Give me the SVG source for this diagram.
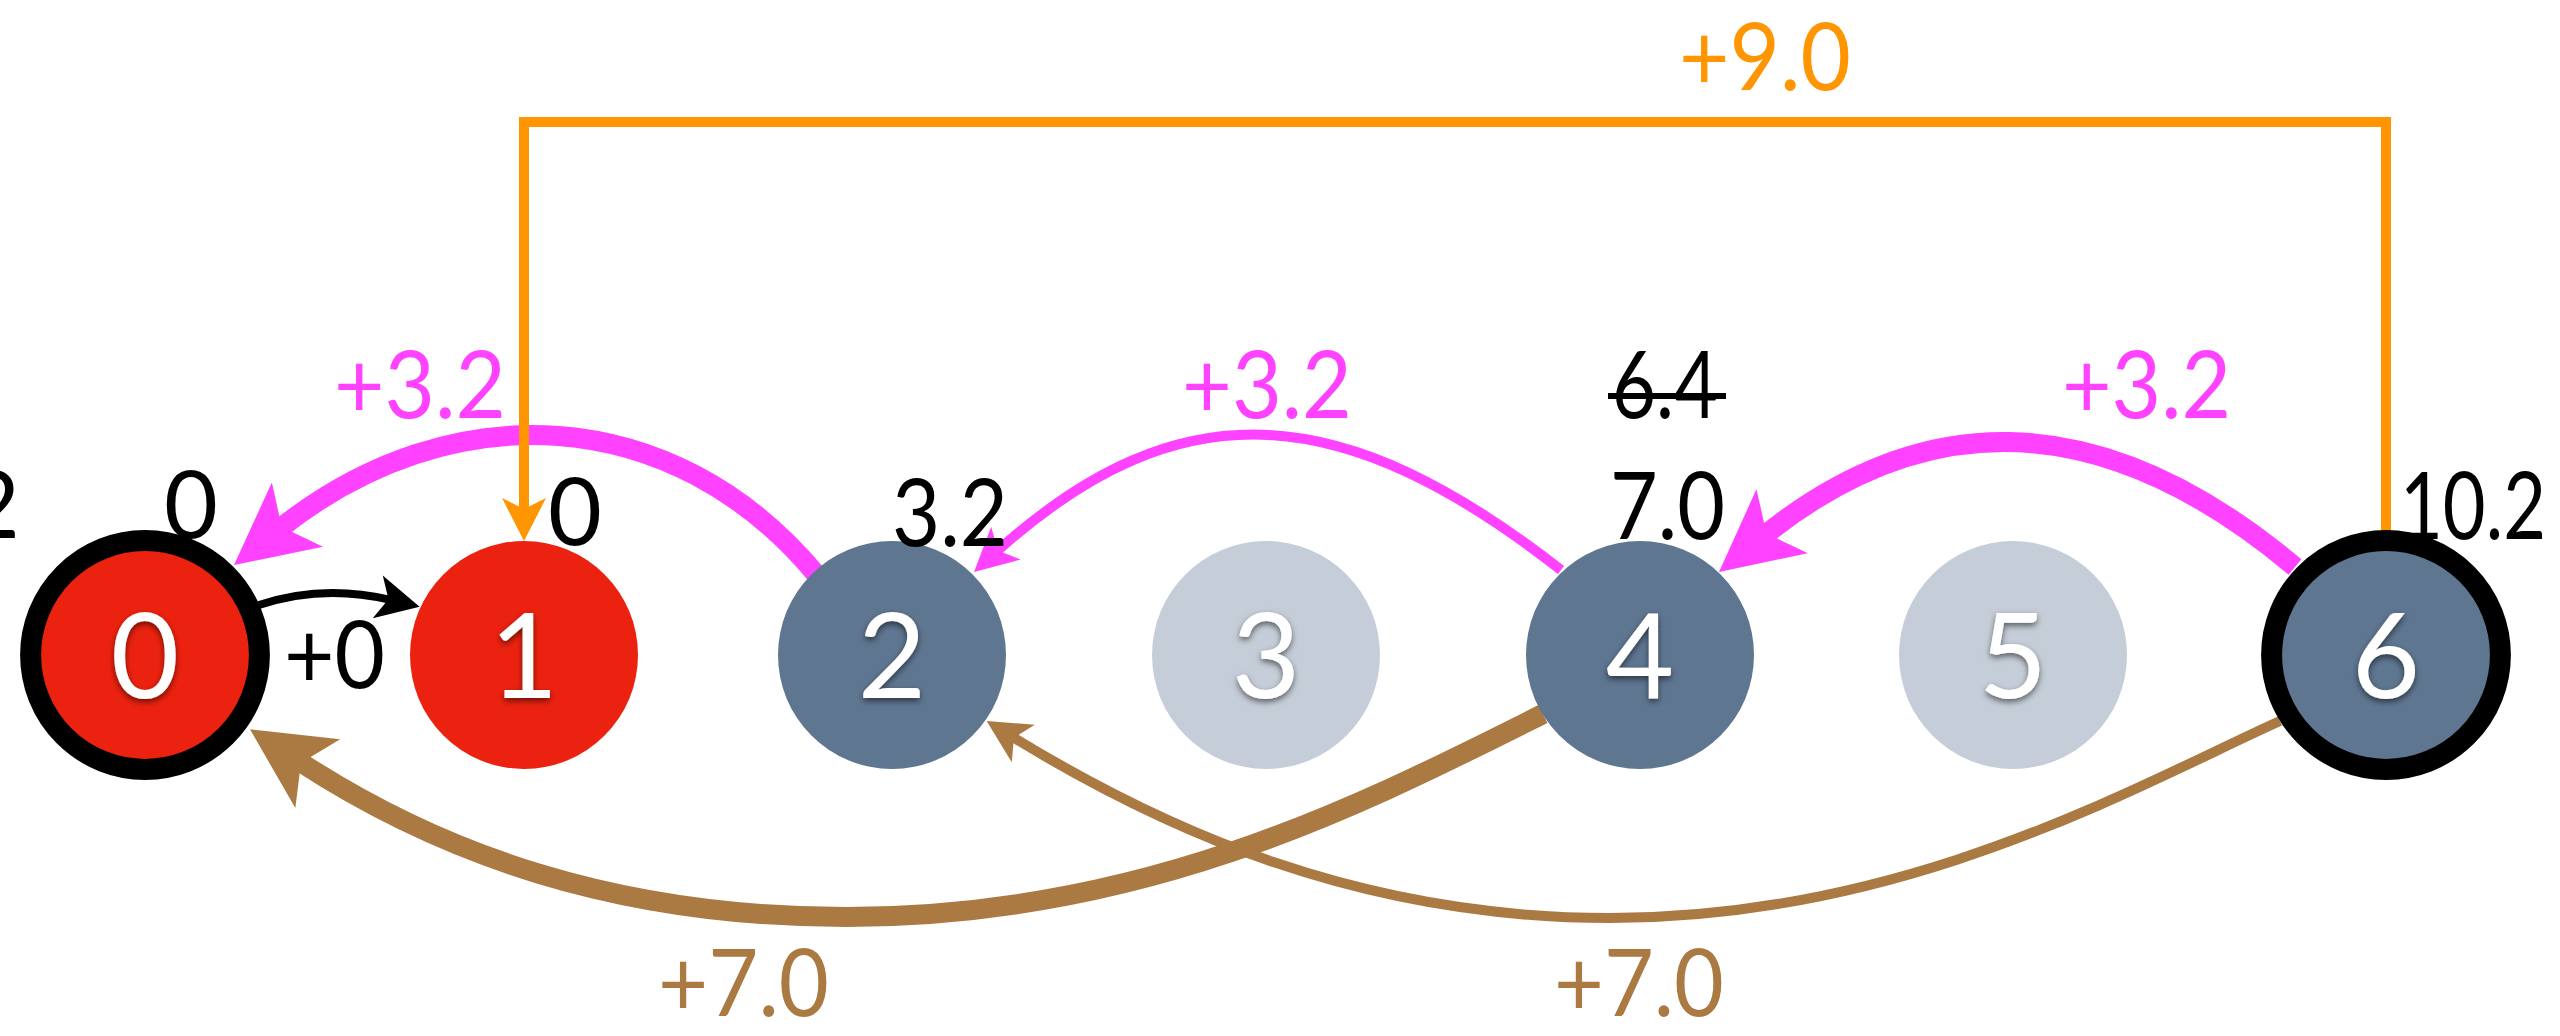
<svg xmlns="http://www.w3.org/2000/svg" width="2560" height="1036" viewBox="0 0 2560 1036">
<style>
.t{font-family:Lato,"Open Sans","Liberation Sans",sans-serif;font-size:93px}
.k{fill:#000}
.pk{fill:#FF42FF}
.br{fill:#AB7A43}
.or{fill:#FF9500}
.num{font-family:Lato,"Open Sans","Liberation Sans",sans-serif;font-size:118px;fill:#fff;text-anchor:middle;filter:url(#sh)}
.red{fill:#EC2210}
.dark{fill:#5F7691}
.light{fill:#C5CED8}
.ring{stroke:#000;stroke-width:21}
.c{fill:none}
</style>
<defs>
<filter id="sh" x="-30%" y="-30%" width="160%" height="160%">
<feDropShadow dx="0" dy="3" stdDeviation="3" flood-color="#000" flood-opacity="0.55"/>
</filter>
<marker id="aPinkB" markerUnits="userSpaceOnUse" orient="auto" refX="0" refY="0" markerWidth="1" markerHeight="1" overflow="visible"><path d="M58,0 L-23,-41 L-3,0 L-23,41 Z" fill="#FF42FF"/></marker>
<marker id="aPinkS" markerUnits="userSpaceOnUse" orient="auto" refX="0" refY="0" markerWidth="1" markerHeight="1" overflow="visible"><path d="M30,0 L-13,-22 L-2,0 L-13,22 Z" fill="#FF42FF"/></marker>
<marker id="aBrownB" markerUnits="userSpaceOnUse" orient="auto" refX="0" refY="0" markerWidth="1" markerHeight="1" overflow="visible"><path d="M58,0 L-23,-41 L-3,0 L-23,41 Z" fill="#AB7A43"/></marker>
<marker id="aBrownS" markerUnits="userSpaceOnUse" orient="auto" refX="0" refY="0" markerWidth="1" markerHeight="1" overflow="visible"><path d="M30,0 L-13,-22 L-2,0 L-13,22 Z" fill="#AB7A43"/></marker>
<marker id="aBlack" markerUnits="userSpaceOnUse" orient="auto" refX="0" refY="0" markerWidth="1" markerHeight="1" overflow="visible"><path d="M30,0 L-13,-22 L-2,0 L-13,22 Z" fill="#000"/></marker>
<marker id="aOrange" markerUnits="userSpaceOnUse" orient="auto" refX="0" refY="0" markerWidth="1" markerHeight="1" overflow="visible"><path d="M30,0 L-13,-22 L-2,0 L-13,22 Z" fill="#FF9500"/></marker>
</defs>
<rect width="2560" height="1036" fill="#fff"/>

<g id="connectors">
<path class="c" d="M815,573 C673.1,403.9 452.2,391.4 279.4,528.9" stroke="#FF42FF" stroke-width="20" marker-end="url(#aPinkB)"/>
<path class="c" d="M1561,570 C1346.3,402.2 1182.7,383.8 996.3,551.9" stroke="#FF42FF" stroke-width="10" marker-end="url(#aPinkS)"/>
<path class="c" d="M2295,567 C2092.1,396.7 1914.9,414.5 1764.2,535.6" stroke="#FF42FF" stroke-width="20" marker-end="url(#aPinkB)"/>
<path class="c" d="M1543,714 C1364.2,803.4 1146,917 846,917 C616,917 440.8,854 298.5,761" stroke="#AB7A43" stroke-width="20" marker-end="url(#aBrownB)"/>
<path class="c" d="M2280,721 C2143,782.5 1910,918 1610,918 C1360,918 1165.7,830.7 1012.2,736.7" stroke="#AB7A43" stroke-width="10" marker-end="url(#aBrownS)"/>
<path class="c" d="M259,605 Q322.2,583.8 390.4,599.8" stroke="#000" stroke-width="8" marker-end="url(#aBlack)"/>
<path class="c" d="M2386,531 V122 H524 V511" stroke="#FF9500" stroke-width="10" marker-end="url(#aOrange)"/>
<text class="t pk" x="334" y="418" textLength="172" lengthAdjust="spacingAndGlyphs">+3.2</text>
<text class="t pk" x="1182" y="418" textLength="170" lengthAdjust="spacingAndGlyphs">+3.2</text>
<text class="t pk" x="2062" y="418" textLength="169" lengthAdjust="spacingAndGlyphs">+3.2</text>
<text class="t or" x="1679" y="90" textLength="172" lengthAdjust="spacingAndGlyphs">+9.0</text>
<text class="t br" x="658" y="1016" textLength="171" lengthAdjust="spacingAndGlyphs">+7.0</text>
<text class="t br" x="1554" y="1016" textLength="170" lengthAdjust="spacingAndGlyphs">+7.0</text>
<text class="t k" x="284" y="688" textLength="101" lengthAdjust="spacingAndGlyphs">+0</text>
</g>

<g id="node-0">
<circle class="red ring" cx="145" cy="655" r="114.4"/>
<text class="num" x="145" y="698">0</text>
<text class="t k" x="164" y="538">0</text>
<text class="t k" x="20" y="538" text-anchor="end">2</text>
</g>
<g id="node-1">
<circle class="red" cx="524" cy="655" r="114"/>
<text class="num" x="524" y="698">1</text>
<text class="t k" x="548" y="545">0</text>
</g>
<g id="node-2">
<circle class="dark" cx="892" cy="655" r="114"/>
<text class="num" x="892" y="698">2</text>
<text class="t k" x="892" y="546" textLength="116" lengthAdjust="spacingAndGlyphs">3.2</text>
</g>
<g id="node-3">
<circle class="light" cx="1266" cy="655" r="114"/>
<text class="num" x="1266" y="698">3</text>
</g>
<g id="node-4">
<circle class="dark" cx="1640" cy="655" r="114"/>
<text class="num" x="1640" y="698">4</text>
<text class="t k" x="1612" y="418" textLength="106" lengthAdjust="spacingAndGlyphs">6.4</text>
<line x1="1608" y1="396" x2="1726" y2="396" stroke="#000" stroke-width="6"/>
<text class="t k" x="1610" y="539" textLength="115" lengthAdjust="spacingAndGlyphs">7.0</text>
</g>
<g id="node-5">
<circle class="light" cx="2013" cy="655" r="114"/>
<text class="num" x="2013" y="698">5</text>
</g>
<g id="node-6">
<circle class="dark ring" cx="2386" cy="655" r="114.4"/>
<text class="num" x="2386" y="698">6</text>
<text class="t k" x="2400" y="539" textLength="146" lengthAdjust="spacingAndGlyphs">10.2</text>
</g>
</svg>
